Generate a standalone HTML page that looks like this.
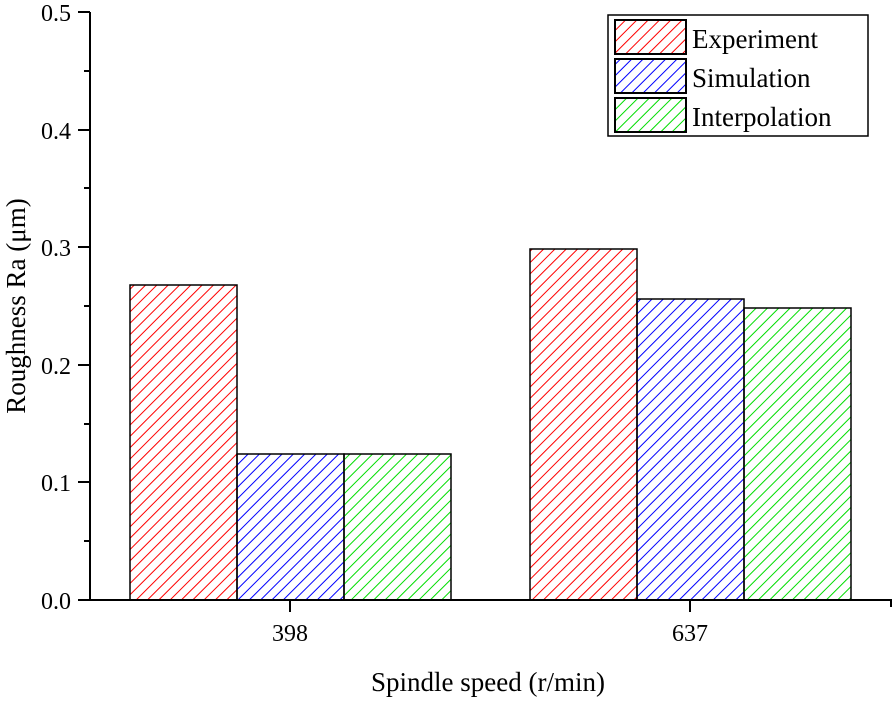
<!DOCTYPE html>
<html><head><style>body{margin:0;background:#fff} text{font-family:"Liberation Serif","DejaVu Serif",serif}</style></head><body>
<svg width="896" height="700" xmlns="http://www.w3.org/2000/svg">
<defs>
<pattern id="pr" width="8" height="8" patternUnits="userSpaceOnUse" patternTransform="rotate(45)"><line x1="0" y1="0" x2="0" y2="8" stroke="#f00" stroke-width="2"/></pattern>
<pattern id="pb" width="8" height="8" patternUnits="userSpaceOnUse" patternTransform="rotate(45)"><line x1="0" y1="0" x2="0" y2="8" stroke="#00f" stroke-width="2"/></pattern>
<pattern id="pg" width="8" height="8" patternUnits="userSpaceOnUse" patternTransform="rotate(45)"><line x1="0" y1="0" x2="0" y2="8" stroke="#0d0" stroke-width="2"/></pattern>
</defs>
<g stroke="#000" stroke-width="1.5">
<rect x="130" y="285" width="107" height="315" fill="url(#pr)"/>
<rect x="237" y="454" width="107" height="146" fill="url(#pb)"/>
<rect x="344" y="454" width="107" height="146" fill="url(#pg)"/>
<rect x="530" y="249" width="107" height="351" fill="url(#pr)"/>
<rect x="637" y="299" width="107" height="301" fill="url(#pb)"/>
<rect x="744" y="308" width="107" height="292" fill="url(#pg)"/>
</g>
<g stroke="#000" stroke-width="2" fill="none">
<path d="M90 12 V600 H891 V607"/>
<path d="M78 12H90M78 130H90M78 247H90M78 365H90M78 482H90M78 600H90"/>
<path d="M84 71H90M84 188H90M84 306H90M84 424H90M84 541H90"/>
<path d="M290 600V612M690 600V612"/>
</g>
<g font-size="24" text-anchor="end">
<text x="71" y="21">0.5</text><text x="71" y="139">0.4</text><text x="71" y="256">0.3</text>
<text x="71" y="374">0.2</text><text x="71" y="491">0.1</text><text x="71" y="609">0.0</text>
</g>
<g font-size="24" text-anchor="middle">
<text x="290" y="641">398</text><text x="690" y="641">637</text>
</g>
<text x="488" y="691" font-size="27" text-anchor="middle">Spindle speed (r/min)</text>
<text transform="translate(25,306) rotate(-90)" font-size="27" text-anchor="middle">Roughness Ra (μm)</text>
<rect x="608" y="15" width="260" height="121" fill="#fff" stroke="#000" stroke-width="1.5"/>
<g stroke="#000" stroke-width="2">
<rect x="615" y="20" width="71" height="34" fill="url(#pr)"/>
<rect x="615" y="59" width="71" height="34" fill="url(#pb)"/>
<rect x="615" y="98" width="71" height="34" fill="url(#pg)"/>
</g>
<g font-size="27">
<text x="692" y="48">Experiment</text>
<text x="692" y="87">Simulation</text>
<text x="692" y="126">Interpolation</text>
</g>
</svg>
</body></html>
